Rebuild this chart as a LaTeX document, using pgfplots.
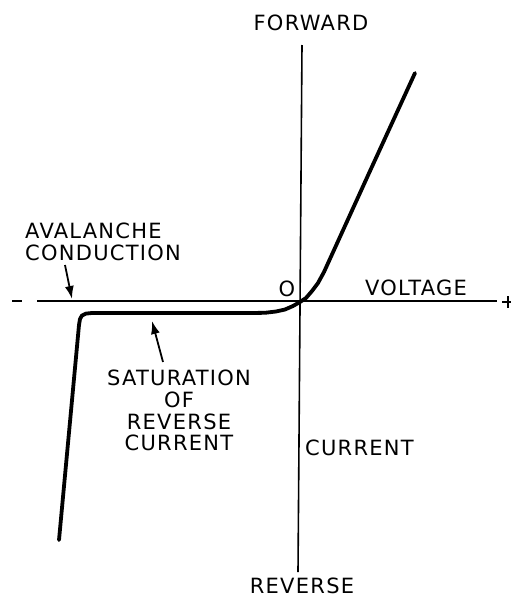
\documentclass[border=0pt]{standalone}
\usepackage{fontspec}
\setmainfont{DejaVu Sans}[LetterSpace=6]
\usepackage{pgfplots}
\pgfplotsset{compat=1.18}
\usetikzlibrary{arrows.meta}

% diode I-V characteristic, coordinates measured in picture pixels (y down)
\pgfplotstableread{
x y
415 73
370 171
324 272
318 283
312 291
306 298
300 302
293 306
285 309.5
276 311.5
265 312.8
250 313
150 313
92 313
86 313.6
82 315.5
80 319
79 325
59 540
}\curve

\tikzset{lbl/.style={font=\fontsize{21}{22}\selectfont, inner sep=0pt}}

\begin{document}
\begin{tikzpicture}
\begin{axis}[
    scale only axis, width=511pt, height=600pt,
    xmin=0, xmax=511, ymin=0, ymax=600, y dir=reverse,
    hide axis, clip=false,
]
% frame extent (invisible)
\addplot[draw=none] coordinates {(0,0) (511,600)};
% axes
\addplot[black, line width=1.6pt] coordinates {(302,45) (298,572)};
\addplot[black, line width=1.6pt] coordinates {(12,301) (22,301)};
\addplot[black, line width=1.6pt] coordinates {(37,301) (497,301)};
\addplot[black, line width=1.6pt] coordinates {(502,302) (511,302)};
\addplot[black, line width=1.6pt] coordinates {(508,296) (508,308)};
% characteristic
\addplot[black, line width=3.8pt, line join=round, line cap=round] table {\curve};
% pointer arrows
\addplot[black, line width=1.8pt, -{Latex[length=13pt, width=9pt]}] coordinates {(65,265) (72,299)};
\addplot[black, line width=1.8pt, -{Latex[length=13pt, width=9pt]}] coordinates {(163,362) (152,321)};
% labels
\node[lbl, anchor=base] at (axis cs:311,30) {FORWARD};
\node[lbl, anchor=base] at (axis cs:287,296) {O};
\node[lbl, anchor=base west] at (axis cs:365,295) {VOLTAGE};
\node[lbl, anchor=base west] at (axis cs:25,238) {AVALANCHE};
\node[lbl, anchor=base west] at (axis cs:25,260) {CONDUCTION};
\node[lbl, anchor=base] at (axis cs:179,385) {SATURATION};
\node[lbl, anchor=base] at (axis cs:179,407) {OF};
\node[lbl, anchor=base] at (axis cs:179,429) {REVERSE};
\node[lbl, anchor=base] at (axis cs:179,450) {CURRENT};
\node[lbl, anchor=base west] at (axis cs:305,455) {CURRENT};
\node[lbl, anchor=base] at (axis cs:302,593) {REVERSE};
\end{axis}
\end{tikzpicture}
\end{document}
